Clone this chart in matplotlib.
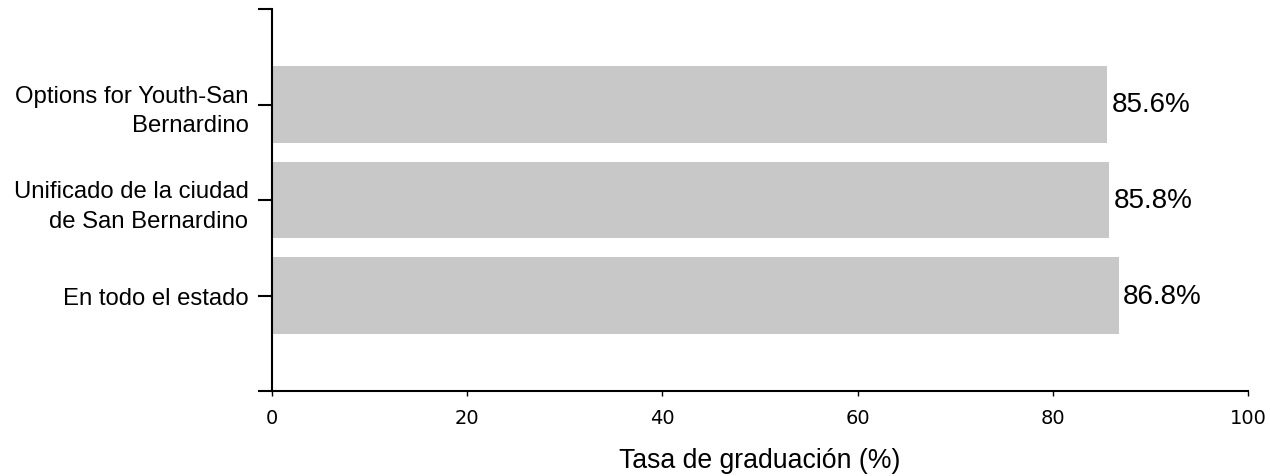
import matplotlib.pyplot as plt
import numpy as np

categories = ['Options for Youth-San\nBernardino', 'Unificado de la ciudad\nde San Bernardino', 'En todo el estado']
values = [85.6, 85.8, 86.8]
xticks = [0, 20, 40, 60, 80, 100]

plt.rcParams['font.family'] = ['Liberation Sans', 'DejaVu Sans']

fig = plt.figure(figsize=(12.7, 4.77), dpi=100)
ax = fig.add_axes([272/1270, 1 - 392/477, 976/1270, 382/477])

pos = np.arange(len(categories))
ax.barh(pos, values, height=0.8, color='#c8c8c8')
for p, v in zip(pos, values):
    ax.text(v + 0.4, p, f'{v}%', va='center', ha='left', fontsize=20)

ax.set_xlim(0, 100)
ax.set_ylim(len(categories), -1)
ax.set_yticks(np.arange(-1, len(categories) + 1))
ax.set_yticklabels([''] + categories + [''], fontsize=17.2, linespacing=1.42)
ax.set_xticks(xticks)
ax.set_xticklabels([str(t) for t in xticks], fontsize=14, family='DejaVu Sans')
ax.tick_params(axis='y', length=10, width=1.5, pad=7)
ax.tick_params(axis='x', length=3.5, width=1, pad=9)
ax.set_xlabel('Tasa de graduación (%)', fontsize=19.2, labelpad=14)

for s in ['top', 'right']:
    ax.spines[s].set_visible(False)
for s in ['left', 'bottom']:
    ax.spines[s].set_linewidth(1.5)

fig.savefig('out.png', dpi=100)
